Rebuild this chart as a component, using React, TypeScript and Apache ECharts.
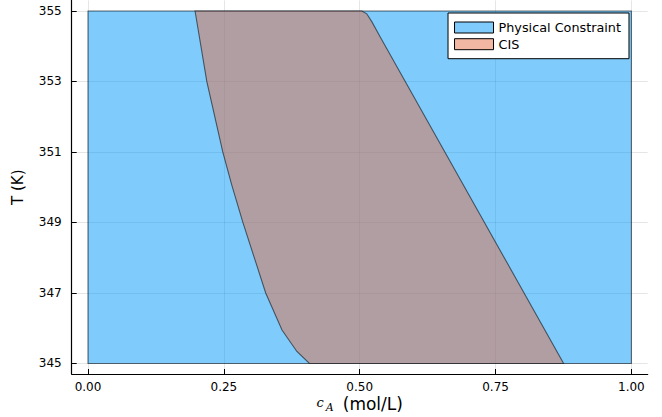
import React, { useEffect, useRef } from "react";
import * as echarts from "echarts";

// Physical constraint rectangle (c_A in mol/L, T in K)
const physX = [0, 0, 1, 1];
const physT = [345, 355, 355, 345];

// CIS polygon: left boundary top→bottom, then right boundary bottom→top
const cisX = [0.197, 0.2186, 0.248, 0.2646, 0.285, 0.327, 0.357, 0.3844, 0.4075, 0.8753, 0.5378, 0.5225, 0.513, 0.504];
const cisT = [355, 353, 351, 350.06, 349, 347, 345.95, 345.34, 345, 345, 354.26, 354.69, 354.92, 355];

const xTicks = [0, 0.25, 0.5, 0.75, 1];
const yTicks = [345, 347, 349, 351, 353, 355];

const FONT = "DejaVu Sans";

function polygonSeries(name: string, xs: number[], ys: number[], fill: string) {
  return {
    name,
    type: "custom",
    coordinateSystem: "cartesian2d",
    data: xs.map((x, i) => [x, ys[i]]),
    encode: { x: 0, y: 1 },
    itemStyle: { color: fill },
    renderItem: (params: any, api: any) => {
      if (params.dataIndex !== 0) return null;
      const pts = xs.map((x, i) => api.coord([x, ys[i]]));
      return {
        type: "polygon",
        shape: { points: pts },
        style: { fill, stroke: "rgba(20,30,40,0.65)", lineWidth: 1.1 },
      };
    },
  };
}

export default function App() {
  const ref = useRef<HTMLDivElement>(null);
  useEffect(() => {
    if (!ref.current) return;
    const chart = echarts.init(ref.current, undefined, { renderer: "svg" });
    const blue = "rgba(0,154,250,0.5)";
    const red = "rgba(227,111,71,0.5)";
    chart.setOption({
      animation: false,
      backgroundColor: "#fff",
      textStyle: { fontFamily: FONT },
      grid: { left: 71.7, right: 14.3, top: 0.4, bottom: 43, containLabel: false, outerBoundsMode: "none" },
      legend: {
        orient: "vertical",
        right: 33,
        top: 13,
        padding: [8, 8, 8, 6],
        itemWidth: 39,
        itemHeight: 11,
        itemGap: 3.7,
        backgroundColor: "#fff",
        borderColor: "#000",
        borderWidth: 1,
        borderRadius: 0,
        textStyle: { fontFamily: FONT, fontSize: 12.8, color: "#000", lineHeight: 11 },
        data: [
          { name: "Physical Constraint", icon: "rect", itemStyle: { color: blue, borderColor: "#000", borderWidth: 1 } },
          { name: "CIS", icon: "rect", itemStyle: { color: red, borderColor: "#000", borderWidth: 1 } },
        ],
      },
      xAxis: {
        type: "value",
        min: -0.03,
        max: 1.03,
        name: "{i|c}{s|A}{n|(mol/L)}",
        nameLocation: "middle",
        nameGap: 21.5,
        nameMoveOverlap: false,
        nameTextStyle: {
          rich: {
            i: { fontFamily: "DejaVu Serif", fontStyle: "italic", fontSize: 13, color: "#000", verticalAlign: "top", lineHeight: 16, padding: [0, 2, 0, 0] },
            s: { fontFamily: "DejaVu Serif", fontStyle: "italic", fontSize: 11, color: "#000", verticalAlign: "top", lineHeight: 11, padding: [6, 9, 0, 0] },
            n: { fontFamily: FONT, fontSize: 17, color: "#000", verticalAlign: "top", lineHeight: 16 },
          },
        },
        axisLine: { show: true, onZero: false, lineStyle: { color: "#000", width: 1.2 } },
        axisTick: { show: true, inside: true, length: 5, customValues: xTicks, lineStyle: { color: "#000" } },
        axisLabel: {
          customValues: xTicks,
          formatter: (v: number) => v.toFixed(2),
          fontFamily: FONT,
          fontSize: 12,
          lineHeight: 12,
          color: "#000",
          margin: 6.5,
        },
        splitLine: { show: true, lineStyle: { color: "rgba(0,0,0,0.1)", width: 1 } },
      },
      yAxis: {
        type: "value",
        min: 344.7,
        max: 355.3,
        name: "T (K)",
        nameLocation: "middle",
        nameRotate: 90,
        nameGap: 46,
        nameMoveOverlap: false,
        nameTextStyle: { fontFamily: FONT, fontSize: 15, color: "#000", lineHeight: 15 },
        axisLine: { show: true, onZero: false, lineStyle: { color: "#000", width: 1.2 } },
        axisTick: { show: true, inside: true, length: 5, customValues: yTicks, lineStyle: { color: "#000" } },
        axisLabel: {
          customValues: yTicks,
          formatter: (v: number) => String(Math.round(v)),
          fontFamily: FONT,
          fontSize: 12,
          color: "#000",
          margin: 10,
        },
        splitLine: { show: true, lineStyle: { color: "rgba(0,0,0,0.1)", width: 1 } },
      },
      series: [
        polygonSeries("Physical Constraint", physX, physT, blue),
        polygonSeries("CIS", cisX, cisT, red),
      ],
    });
    return () => chart.dispose();
  }, []);
  return <div ref={ref} style={{ position: "fixed", left: 0, top: 0, width: 662, height: 417 }} />;
}
